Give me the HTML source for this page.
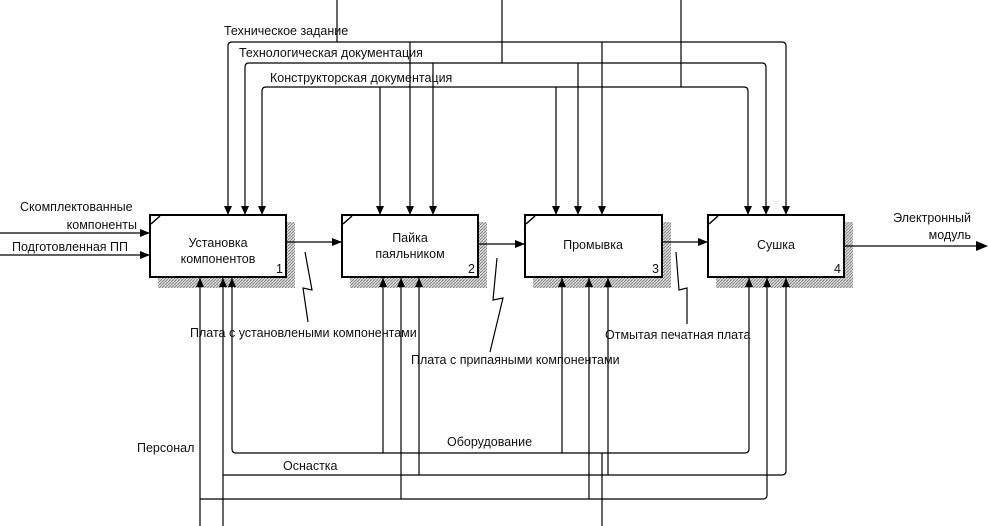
<!DOCTYPE html>
<html><head><meta charset="utf-8"><style>
html,body{margin:0;padding:0;background:#fff;}
svg{display:block;font-family:"Liberation Sans",sans-serif;}
text{font-size:12.5px;fill:#111;}
</style></head><body>
<svg width="988" height="526" viewBox="0 0 988 526" xmlns="http://www.w3.org/2000/svg">
<defs>
<pattern id="h" width="3" height="3" patternUnits="userSpaceOnUse"><rect width="3" height="3" fill="#ddd"/><path d="M0 3L3 0" stroke="#888" stroke-width="1"/></pattern>
<marker id="a" markerWidth="10" markerHeight="8" refX="9" refY="4" orient="auto" markerUnits="userSpaceOnUse"><path d="M0 0L10 4L0 8z" fill="#000"/></marker>
</defs>
<g fill="url(#h)">
<rect x="286" y="222" width="9" height="66"/><rect x="158" y="277" width="137" height="11"/>
<rect x="478" y="222" width="9" height="66"/><rect x="350" y="277" width="137" height="11"/>
<rect x="662" y="222" width="9" height="66"/><rect x="533" y="277" width="138" height="11"/>
<rect x="844" y="222" width="9" height="66"/><rect x="716" y="277" width="137" height="11"/>
</g>
<g fill="#fff" stroke="#000" stroke-width="2">
<rect x="150" y="215" width="136" height="62"/><rect x="342" y="215" width="136" height="62"/>
<rect x="525" y="215" width="137" height="62"/><rect x="708" y="215" width="136" height="62"/>
</g>
<g stroke="#000" stroke-width="1.5">
<path d="M151 224L160 216M343 224L352 216M526 224L535 216M709 224L718 216"/>
</g>
<g fill="none" stroke="#000" stroke-width="1.2">
<!-- top controls -->
<path d="M337 0V42M228 215V46Q228 42 232 42H782Q786 42 786 46V215"/>
<path d="M410 42V215M602 42V215"/>
<path d="M502 0V63M245 215V67Q245 63 249 63H762Q766 63 766 67V215M433 63V215M578 63V215"/>
<path d="M681 0V87M262 215V91Q262 87 266 87H744Q748 87 748 91V215M380 87V215M556 87V215"/>
<!-- bottom mechanisms -->
<path d="M602 526V453M232 278V449Q232 453 236 453H745Q749 453 749 449V278M383 453V278M562 453V278"/>
<path d="M223 526V278M223 475H782Q786 475 786 471V278M419 475V278M608 475V278"/>
<path d="M200 526V278M200 499H763Q767 499 767 495V278M401 499V278M589 499V278"/>
<!-- inputs/outputs -->
<path d="M0 233H150M0 255H150M286 242H342M478 244H525M662 242H708M844 246H985"/>
<!-- squiggles -->
<path d="M305 252L312 290L303 288L308 322M497 258L493 300L503 298L490 352M676 252L679 290L687 288L687 324"/>
</g>
<g fill="#000">
<path d="M228 215l-4-9h8zM245 215l-4-9h8zM262 215l-4-9h8zM380 215l-4-9h8zM410 215l-4-9h8zM433 215l-4-9h8zM556 215l-4-9h8zM578 215l-4-9h8zM602 215l-4-9h8zM748 215l-4-9h8zM766 215l-4-9h8zM786 215l-4-9h8z"/>
<path d="M200 278l-4 9h8zM223 278l-4 9h8zM232 278l-4 9h8zM383 278l-4 9h8zM401 278l-4 9h8zM419 278l-4 9h8zM562 278l-4 9h8zM589 278l-4 9h8zM608 278l-4 9h8zM749 278l-4 9h8zM767 278l-4 9h8zM786 278l-4 9h8z"/>
<path d="M150 233l-10-4v8zM150 255l-10-4v8zM342 242l-10-4v8zM525 244l-10-4v8zM708 242l-10-4v8zM988 246l-12-5v10z"/>
</g>
<text x="218" y="247" text-anchor="middle">Установка</text>
<text x="218" y="263" text-anchor="middle">компонентов</text>
<text x="410" y="242" text-anchor="middle">Пайка</text>
<text x="410" y="258" text-anchor="middle">паяльником</text>
<text x="593" y="249" text-anchor="middle">Промывка</text>
<text x="776" y="249" text-anchor="middle">Сушка</text>
<text x="276" y="273">1</text><text x="468" y="273">2</text><text x="652" y="273">3</text><text x="834" y="273">4</text>
<text x="224" y="35">Техническое задание</text>
<text x="239" y="57">Технологическая документация</text>
<text x="270" y="82">Конструкторская документация</text>
<text x="20" y="211">Скомплектованные</text>
<text x="137" y="229" text-anchor="end">компоненты</text>
<text x="12" y="251">Подготовленная ПП</text>
<text x="971" y="222" text-anchor="end">Электронный</text>
<text x="971" y="239" text-anchor="end">модуль</text>
<text x="190" y="337">Плата с установлеными компонентами</text>
<text x="411" y="364">Плата с припаяными компонентами</text>
<text x="605" y="339">Отмытая печатная плата</text>
<text x="137" y="452">Персонал</text>
<text x="447" y="446">Оборудование</text>
<text x="283" y="470">Оснастка</text>
</svg>
</body></html>
